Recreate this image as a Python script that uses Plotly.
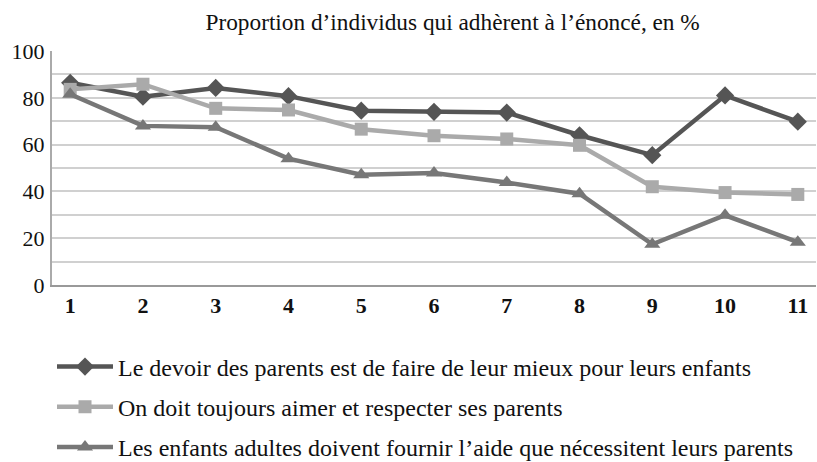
import plotly.graph_objects as go

categories = [1, 2, 3, 4, 5, 6, 7, 8, 9, 10, 11]
tick_labels = ["1", "2", "3", "4", "5", "6", "7", "8", "9", "10", "11"]
s1_name = "Le devoir des parents est de faire de leur mieux pour leurs enfants"
s2_name = "On doit toujours aimer et respecter ses parents"
s3_name = "Les enfants adultes doivent fournir l’aide que nécessitent leurs parents"
s1 = [86.4, 80.5, 84.2, 80.7, 74.5, 74.0, 73.7, 64.0, 55.5, 81.0, 69.8]
s2 = [83.6, 85.8, 75.5, 74.8, 66.6, 63.8, 62.4, 59.7, 42.0, 39.5, 38.7]
s3 = [81.5, 68.0, 67.4, 54.0, 47.1, 47.9, 43.8, 39.0, 17.4, 29.8, 18.3]

FONT = "Liberation Serif"
fig = go.Figure()
specs = [
    (s1, s1_name, "#555555", "diamond", 14),
    (s2, s2_name, "#aaaaaa", "square", 13),
    (s3, s3_name, "#777777", "triangle-up", 14),
]
for i, (vals, name, col, sym, sz) in enumerate(specs):
    fig.add_trace(go.Scatter(
        x=categories, y=vals, name=name, mode="lines+markers",
        line=dict(color=col, width=4.5),
        marker=dict(symbol=sym, size=sz, color=col),
        legendgroup=f"g{i}",
    ))

fig.update_layout(
    width=817, height=462,
    margin=dict(l=52, r=1, t=51, b=177, autoexpand=False),
    paper_bgcolor="white", plot_bgcolor="white",
    font=dict(family=FONT, size=22, color="#111111"),
    title=dict(text="Proportion d’individus qui adhèrent à l’énoncé, en %",
               x=0.554, xanchor="center", y=0.952, yanchor="middle",
               font=dict(family=FONT, size=23.3, color="#111111")),
    showlegend=True,
    legend=dict(x=0.0, xanchor="left", y=-0.254, yanchor="top",
                orientation="v", tracegroupgap=6,
                font=dict(family=FONT, size=24, color="#111111"),
                itemwidth=56, bgcolor="rgba(0,0,0,0)"),
)
fig.update_xaxes(
    range=[0.75, 11.25], tickmode="array", tickvals=categories,
    ticktext=[f"<b>{t}</b>" for t in tick_labels],
    showgrid=False, zeroline=False, showline=True, linecolor="#999999", linewidth=2,
    ticks="", automargin=False, tickfont=dict(family=FONT, size=22, color="#111111"),
)
fig.update_yaxes(
    range=[0, 100], tickmode="array", tickvals=[0, 20, 40, 60, 80, 100],
    showgrid=True, gridcolor="#d0d0d0", gridwidth=2,
    minor=dict(tickmode="array", tickvals=[10, 30, 50, 70, 90], showgrid=True,
               gridcolor="#d0d0d0", gridwidth=2),
    zeroline=False, showline=True, linecolor="#aaaaaa", linewidth=2,
    ticks="", automargin=False, ticklabelstandoff=1,
    tickfont=dict(family=FONT, size=22, color="#111111"),
)
fig.write_html("out.html", config={"displayModeBar": False},
               post_script="document.body.style.margin='0';")
